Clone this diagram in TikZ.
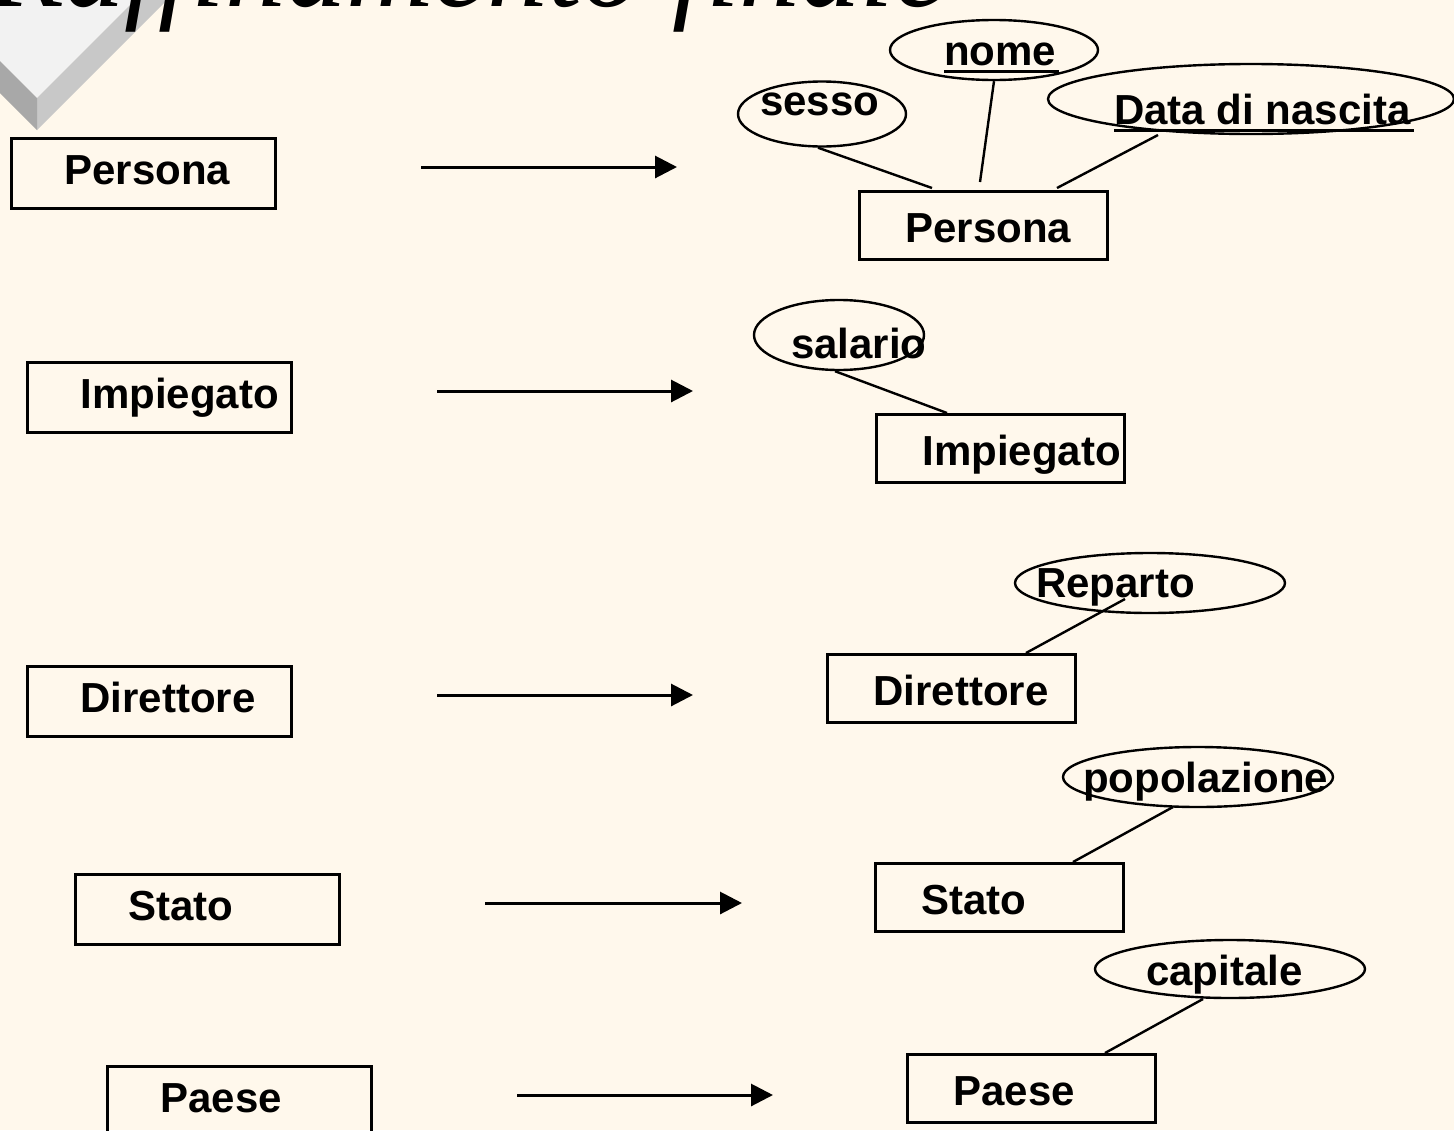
\documentclass[tikz,border=0pt]{standalone}
\usepackage{fontspec}
\setmainfont{Liberation Sans}
\newfontfamily\titlefont{Liberation Serif}
\usetikzlibrary{shapes.geometric,arrows.meta}
\definecolor{paper}{RGB}{255,248,236}
\definecolor{bevelface}{RGB}{242,242,242}
\definecolor{bevelright}{RGB}{200,200,200}
\definecolor{bevelleft}{RGB}{168,168,168}

\begin{document}
\begin{tikzpicture}[x=1pt,y=-1pt,
  entleft/.style={draw, line width=2.8pt, anchor=north west,
    minimum width=264pt, minimum height=70pt, text width=264pt,
    inner xsep=0pt, inner ysep=0pt, align=left,
    text height=33pt, text depth=10pt,
    font=\fontsize{42}{42}\selectfont\bfseries},
  entright/.style={draw, line width=2.8pt, anchor=north west,
    minimum width=248pt, minimum height=68pt, text width=248pt,
    inner xsep=0pt, inner ysep=0pt, align=left,
    text height=38pt, text depth=4pt,
    font=\fontsize{42}{42}\selectfont\bfseries},
  attr/.style={draw, ellipse, line width=2.4pt, inner sep=0pt},
  atext/.style={anchor=base west, inner sep=0pt,
    font=\fontsize{42}{42}\selectfont\bfseries},
  link/.style={line width=2.4pt},
  refine/.style={line width=3pt, -{Triangle[length=22pt,width=22pt]}},
  keyline/.style={line width=3pt}
]
% page
\useasboundingbox (0,0) rectangle (1454,1130);
\clip (0,0) rectangle (1454,1130);
\fill[paper] (0,0) rectangle (1454,1130);

% bevelled bullet in the corner
\fill[bevelface] (37,98) -- (175,-40) -- (-101,-40) -- cycle;
\fill[bevelright] (37,98) -- (175,-40) -- (207,-40) -- (37,130) -- cycle;
\fill[bevelleft] (37,98) -- (37,130) -- (-101,-8) -- (-101,-40) -- cycle;

% title
\node[anchor=base west, inner sep=0pt,
  font=\titlefont\itshape\fontsize{121}{121}\selectfont] (title) at (-10,6)
  {Raffinamento finale};

% entities before refinement
\node[entleft] (P1) at (10,137)   {\hspace*{53pt}Persona};
\node[entleft] (I1) at (26,361)   {\hspace*{53pt}Impiegato};
\node[entleft] (D1) at (26,665)   {\hspace*{53pt}Direttore};
\node[entleft] (S1) at (74,873)   {\hspace*{53pt}Stato};
\node[entleft] (Q1) at (106,1065) {\hspace*{53pt}Paese};

% entities after refinement
\node[entright] (P2) at (858,190)  {\hspace*{46pt}Persona};
\node[entright] (I2) at (875,413)  {\hspace*{46pt}Impiegato};
\node[entright] (D2) at (826,653)  {\hspace*{46pt}Direttore};
\node[entright] (S2) at (874,862)  {\hspace*{46pt}Stato};
\node[entright] (Q2) at (906,1053) {\hspace*{46pt}Paese};

% attributes
\node[attr, minimum width=168pt, minimum height=65pt] (sesso) at (822,114) {};
\node[attr, minimum width=208pt, minimum height=60pt] (nome) at (994,50) {};
\node[attr, minimum width=406pt, minimum height=70pt] (nascita) at (1251,99) {};
\node[attr, minimum width=170pt, minimum height=70pt] (salario) at (839,335) {};
\node[attr, minimum width=270pt, minimum height=60pt] (reparto) at (1150,583) {};
\node[attr, minimum width=270pt, minimum height=60pt] (popolazione) at (1198,777) {};
\node[attr, minimum width=270pt, minimum height=58pt] (capitale) at (1230,969) {};

\node[atext] (sessoT) at (760,115) {sesso};
\node[atext] (nomeT) at (944,65) {nome};
\node[atext] (nascitaT) at (1114,124) {Data di nascita};
\node[atext] (salarioT) at (791,358) {salario};
\node[atext] (repartoT) at (1036,597) {Reparto};
\node[atext] (popolazioneT) at (1083,792) {popolazione};
\node[atext] (capitaleT) at (1146,985) {capitale};

% key underlines
\draw[keyline] ([yshift=-6pt]nomeT.base west) -- ([yshift=-6pt,xshift=3pt]nomeT.base east);
\draw[keyline] ([yshift=-6pt]nascitaT.base west) -- ([yshift=-6pt,xshift=3pt]nascitaT.base east);

% attribute links
\draw[link] ([xshift=-4pt]sesso.south) -- ([xshift=74pt,yshift=2pt]P2.north west);
\draw[link] (nome.south) -- ([xshift=122pt,yshift=8pt]P2.north west);
\draw[link] ([xshift=-93pt,yshift=-36pt]nascita.center) -- ([xshift=199pt,yshift=2pt]P2.north west);
\draw[link] ([xshift=-4pt]salario.south) -- ([xshift=72pt]I2.north west);
\draw[link] ([xshift=-25pt,yshift=-16pt]reparto.center) -- ([xshift=200pt]D2.north west);
\draw[link] ([xshift=-25pt,yshift=-30pt]popolazione.center) -- ([xshift=199pt]S2.north west);
\draw[link] ([xshift=-27pt,yshift=-30pt]capitale.center) -- ([xshift=199pt]Q2.north west);

% refinement arrows
\coordinate (a1s) at (421,167);  \coordinate (a1e) at (677,167);
\coordinate (a2s) at (437,391);  \coordinate (a2e) at (693,391);
\coordinate (a3s) at (437,695);  \coordinate (a3e) at (693,695);
\coordinate (a4s) at (485,903);  \coordinate (a4e) at (742,903);
\coordinate (a5s) at (517,1095); \coordinate (a5e) at (773,1095);
\draw[refine] (a1s) -- (a1e);
\draw[refine] (a2s) -- (a2e);
\draw[refine] (a3s) -- (a3e);
\draw[refine] (a4s) -- (a4e);
\draw[refine] (a5s) -- (a5e);
\end{tikzpicture}
\end{document}
